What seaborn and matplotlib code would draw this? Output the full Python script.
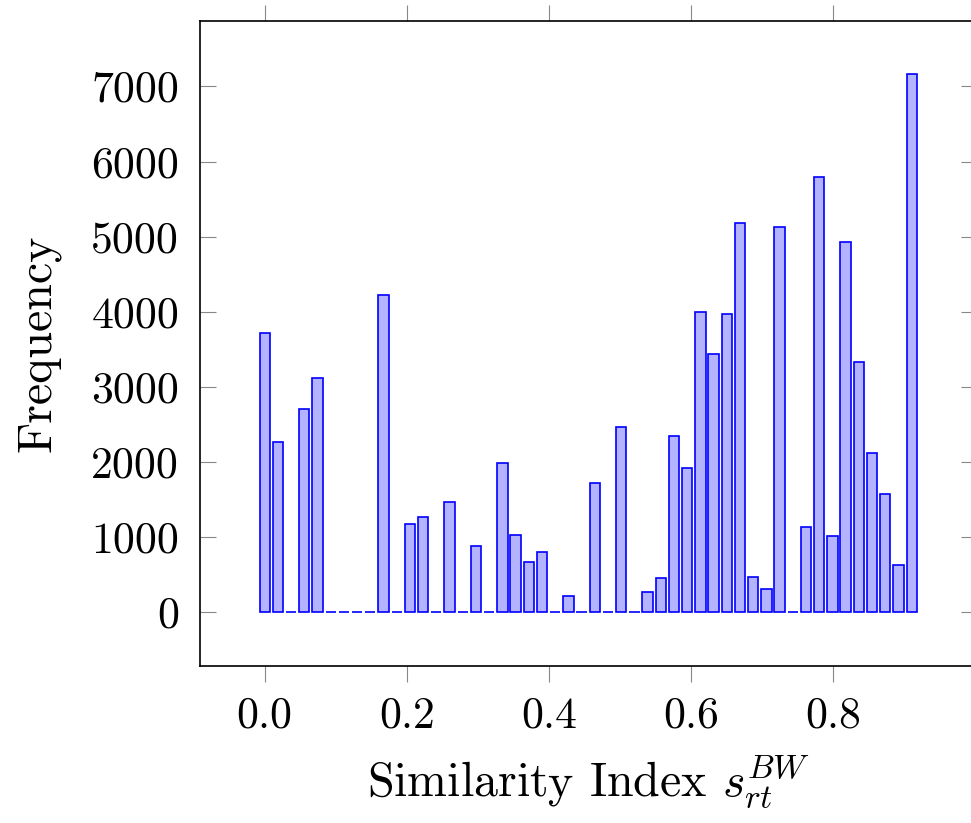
import numpy as np
import pandas as pd
import matplotlib
matplotlib.use("Agg")
import matplotlib.pyplot as plt
import seaborn as sns

# ---- data ----
similarity = [round(i * 0.01859, 5) for i in range(50)]   # bin positions (x)
frequency = [3710, 2270, 0, 2700, 3110, 0, 0, 0, 0, 4220,
             0, 1170, 1260, 0, 1470, 0, 880, 0, 1990, 1020,
             660, 800, 0, 210, 0, 1720, 0, 2470, 0, 260,
             450, 2350, 1920, 4000, 3440, 3970, 5180, 470, 300, 5130,
             0, 1130, 5790, 1010, 4930, 3330, 2115, 1575, 625, 7160]
xticks = [0.0, 0.2, 0.4, 0.6, 0.8]
xtick_labels = ["0.0", "0.2", "0.4", "0.6", "0.8"]
yticks = [0, 1000, 2000, 3000, 4000, 5000, 6000, 7000]
ytick_labels = ["0", "1000", "2000", "3000", "4000", "5000", "6000", "7000"]

df = pd.DataFrame({"similarity": similarity, "frequency": frequency})

sns.set_style("white")
plt.rcParams["font.family"] = "serif"
plt.rcParams["font.serif"] = ["cmr10", "DejaVu Serif"]
plt.rcParams["mathtext.fontset"] = "cm"
plt.rcParams["axes.unicode_minus"] = False
plt.rcParams["axes.formatter.use_mathtext"] = True
plt.rcParams["text.color"] = "black"
plt.rcParams["axes.labelcolor"] = "black"
plt.rcParams["xtick.labelcolor"] = "black"
plt.rcParams["ytick.labelcolor"] = "black"

fig = plt.figure(figsize=(9.71, 8.23), dpi=100)
ax = fig.add_axes([200 / 971, 1 - 665.7 / 823, 776.7 / 971, 645 / 823])

step = 0.01859
sns.histplot(data=df, x="similarity", weights="frequency",
             binwidth=step,
             binrange=(similarity[0] - step / 2, similarity[-1] + step / 2),
             shrink=0.78, color="#b3b3ff", edgecolor="#0000ff",
             linewidth=1.2, alpha=1, ax=ax)

ax.set_xlim(-0.0911, 1.0025)
ax.set_ylim(-716, 7876)

ax.set_xticks(xticks)
ax.set_xticklabels(xtick_labels)
ax.set_yticks(yticks)
ax.set_yticklabels(ytick_labels)

fs = 31.5
ax.tick_params(axis="x", which="both", direction="out", length=11.5, width=0.8,
               color="#888888", labelsize=fs, pad=11, top=True, bottom=True,
               labeltop=False, labelcolor="black")
ax.tick_params(axis="y", which="both", direction="in", length=11.5, width=0.8,
               color="#888888", labelsize=fs, pad=15, left=True, right=True,
               labelright=False, labelcolor="black")

for s in ax.spines.values():
    s.set_visible(True)
    s.set_color("black")
    s.set_linewidth(1.2)

lfs = 34.5
ax.set_xlabel(r"Similarity Index $s_{rt}^{BW}$", fontsize=lfs, color="black")
ax.set_ylabel("Frequency", fontsize=lfs, color="black")
ax.yaxis.set_label_coords(-0.18, 0.5)
ax.xaxis.set_label_coords(0.5, -0.135)
ax.grid(False)

fig.savefig("out.png", dpi=100)
